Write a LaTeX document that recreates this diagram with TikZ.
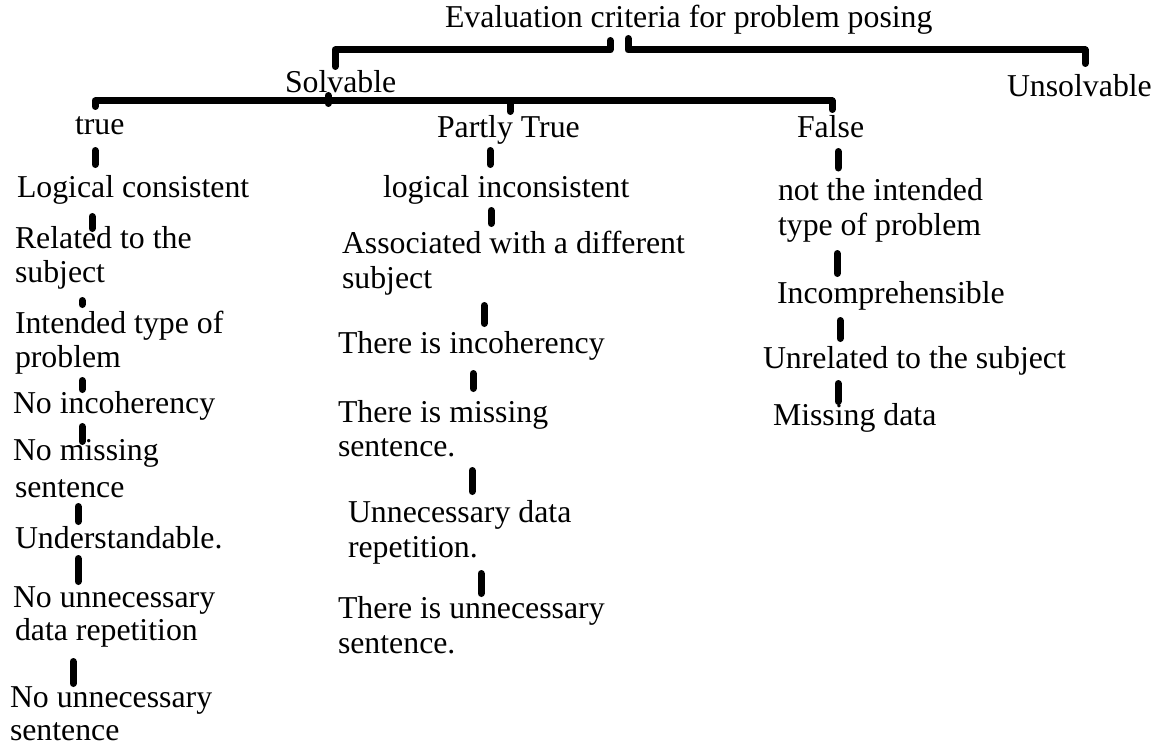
\documentclass[tikz,border=0pt]{standalone}
\usepackage{fontspec}
\setmainfont{Liberation Serif}
\begin{document}
\begin{tikzpicture}[x=1pt,y=-1pt,
  lbl/.style={anchor=base west,inner sep=0pt,outer sep=0pt,font=\fontsize{31.8}{34}\selectfont,text=black},
  bar/.style={line width=7pt,line cap=round,line join=round,black}]
\useasboundingbox (0,0) rectangle (1161,749);
% headings
\node[lbl] (title) at (445,28) {Evaluation criteria for problem posing};
\node[lbl] (solv) at (285,93) {Solvable};
\node[lbl] (unsolv) at (1007,97) {Unsolvable};
\node[lbl] (true) at (75,135) {true};
\node[lbl] (partly) at (437,137) {Partly True};
\node[lbl] (false) at (797,137) {False};
% left column
\node[lbl] (L1) at (17,197) {Logical consistent};
\node[lbl] (L2a) at (15,248) {Related to the};
\node[lbl] (L2b) at (15,282) {subject};
\node[lbl] (L3a) at (15,333) {Intended type of};
\node[lbl] (L3b) at (15,367) {problem};
\node[lbl] (L4) at (13,413) {No incoherency};
\node[lbl] (L5a) at (13,460) {No missing};
\node[lbl] (L5b) at (15,497) {sentence};
\node[lbl] (L6) at (15,548) {Understandable.};
\node[lbl] (L7a) at (13,607) {No unnecessary};
\node[lbl] (L7b) at (15,640) {data repetition};
\node[lbl] (L8a) at (10,707) {No unnecessary};
\node[lbl] (L8b) at (10,740) {sentence};
% middle column
\node[lbl] (M1) at (383,197) {logical inconsistent};
\node[lbl] (M2a) at (342,253) {Associated with a different};
\node[lbl] (M2b) at (342,288) {subject};
\node[lbl] (M3) at (338,353) {There is incoherency};
\node[lbl] (M4a) at (338,422) {There is missing};
\node[lbl] (M4b) at (338,456) {sentence.};
\node[lbl] (M5a) at (348,522) {Unnecessary data};
\node[lbl] (M5b) at (348,557) {repetition.};
\node[lbl] (M6a) at (338,618) {There is unnecessary};
\node[lbl] (M6b) at (338,653) {sentence.};
% right column
\node[lbl] (R1a) at (778,200) {not the intended};
\node[lbl] (R1b) at (778,235) {type of problem};
\node[lbl] (R2) at (777,303) {Incomprehensible};
\node[lbl] (R3) at (763,368) {Unrelated to the subject};
\node[lbl] (R4) at (773,425) {Missing data};
% brackets
\draw[bar] (335,66.5) -- (335,50) -- (610,50) -- (610,40.5);
\draw[bar] (628,38.5) -- (628,50) -- (1085,50) -- (1085,63.5);
\draw[bar] (95,106.5) -- (95,101) -- (832,101) -- (832,109.5);
\draw[bar] (328,95.5) -- (328,103.5);
\draw[bar] (510,101) -- (510,111.5);
% ticks under categories
\draw[bar] (95,150.5) -- (95,164.5);
\draw[bar] (490,150.5) -- (490,164.5);
\draw[bar] (838,151.5) -- (838,168);
% left ticks
\draw[bar] (92,216.5) -- (92,228.5);
\draw[bar] (82,300.5) -- (82,304.5);
\draw[bar] (82,380.5) -- (82,389.5);
\draw[bar] (82,426.5) -- (82,441.5);
\draw[bar] (78,506.5) -- (78,521.5);
\draw[bar] (78,558.5) -- (78,581.5);
\draw[bar] (73,661.5) -- (73,683.5);
% middle ticks
\draw[bar] (491,210.5) -- (491,223.5);
\draw[bar] (484,305.5) -- (484,323.5);
\draw[bar] (473,373.5) -- (473,388.5);
\draw[bar] (472,470.5) -- (472,491.5);
\draw[bar] (481,573.5) -- (481,593.5);
% right ticks
\draw[bar] (837,253.5) -- (837,273.5);
\draw[bar] (840,320.5) -- (840,338.5);
\draw[bar] (838,383.5) -- (838,401.5);
\end{tikzpicture}
\end{document}
